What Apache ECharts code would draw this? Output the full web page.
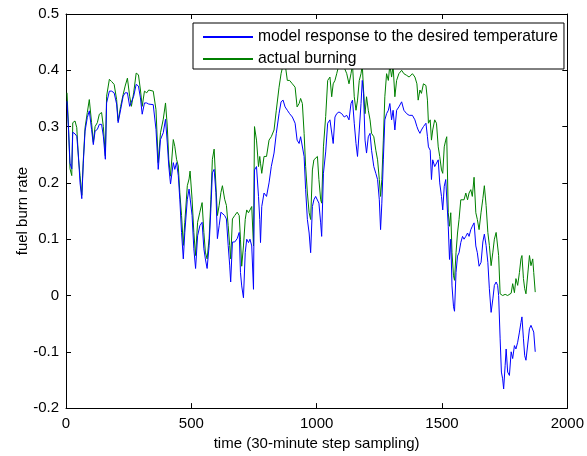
<!DOCTYPE html>
<html>
<head>
<meta charset="utf-8">
<script src="https://cdn.jsdelivr.net/npm/echarts@6/dist/echarts.min.js"></script>
<style>
  html, body { margin: 0; padding: 0; background: #fff; }
  #chart { width: 587px; height: 456px; }
</style>
</head>
<body>
<div id="chart"></div>
<script>
// sampling step (x) and the two curves
var steps = [
  4, 10, 16, 23, 27, 36, 43, 50, 56, 63, 69, 76, 85, 93, 102, 109, 116, 125, 133, 142,
  149, 157, 162, 173, 182, 192, 202, 208, 218, 228, 236, 245, 254, 261, 270, 280, 289, 297, 304, 313,
  322, 330, 348, 359, 368, 377, 388, 397, 404, 410, 417, 428, 434, 441, 448, 454, 461, 468, 474, 484,
  491, 495, 503, 510, 517, 525, 534, 543, 550, 556, 563, 571, 578, 584, 591, 598, 604, 611, 618, 624,
  633, 640, 647, 653, 657, 664, 673, 683, 691, 696, 701, 708, 715, 721, 728, 734, 741, 748, 752, 760,
  768, 773, 776, 781, 790, 800, 810, 819, 830, 839, 850, 858, 866, 874, 883, 892, 903, 914, 922, 930,
  936, 943, 950, 956, 963, 970, 976, 983, 989, 996, 1003, 1009, 1016, 1020, 1027, 1036, 1044, 1053, 1060, 1066,
  1073, 1080, 1089, 1100, 1110, 1120, 1129, 1137, 1143, 1150, 1157, 1163, 1170, 1177, 1182, 1187, 1193, 1199, 1206, 1213,
  1219, 1228, 1236, 1243, 1250, 1255, 1260, 1266, 1272, 1279, 1286, 1292, 1299, 1305, 1312, 1319, 1328, 1339, 1348, 1359,
  1369, 1382, 1392, 1400, 1405, 1412, 1418, 1426, 1436, 1442, 1446, 1453, 1458, 1463, 1471, 1478, 1485, 1491, 1498, 1503,
  1509, 1515, 1519, 1525, 1530, 1535, 1540, 1546, 1550, 1556, 1562, 1568, 1575, 1582, 1588, 1595, 1602, 1608, 1615, 1621,
  1628, 1635, 1641, 1648, 1656, 1663, 1669, 1676, 1683, 1689, 1696, 1703, 1709, 1716, 1722, 1726, 1732, 1737, 1742, 1746,
  1752, 1756, 1762, 1769, 1776, 1782, 1789, 1795, 1802, 1809, 1815, 1819, 1825, 1830, 1835, 1842, 1849, 1855, 1862, 1866,
  1872
]
var model = [
  .345, .295, .235, .225, .290, .287, .283, .245, .200, .172, .235, .292, .316, .328, .295, .268, .292, .295, .304, .304,
  .283, .242, .342, .363, .363, .360, .340, .307, .330, .354, .360, .360, .336, .333, .354, .375, .372, .351, .322, .342,
  .342, .340, .339, .295, .224, .277, .289, .313, .271, .230, .198, .236, .224, .236, .213, .171, .112, .065, .112, .171,
  .189, .192, .142, .083, .048, .106, .124, .130, .083, .065, .048, .089, .154, .218, .224, .183, .101, .124, .148, .148,
  .142, .136, .089, .054, .024, .095, .095, .101, .112, .041, .017, -.004, .076, .100, .094, .100, .088, .011, .223, .229,
  .176, .135, .094, .158, .182, .176, .200, .229, .253, .288, .323, .344, .347, .335, .329, .323, .317, .306, .276, .270,
  .282, .282, .247, .188, .135, .111, .076, .158, .170, .176, .179, .164, .129, .105, .217, .255, .306, .312, .312, .270,
  .317, .323, .326, .323, .317, .320, .312, .341, .347, .306, .270, .247, .294, .341, .382, .359, .276, .253, .282, .288,
  .258, .229, .217, .206, .170, .117, .164, .241, .312, .323, .329, .341, .312, .329, .294, .329, .335, .344, .329, .323,
  .320, .320, .312, .300, .294, .288, .294, .300, .306, .282, .264, .258, .206, .241, .229, .229, .241, .200, .176, .152,
  .194, .206, .206, .123, .064, .100, .017, -.020, -.028, .041, .070, .076, .094, .105, .100, .105, .111, .105, .117, .123,
  .129, .088, .076, .052, .059, .095, .109, .089, .059, .012, -.030, -.006, .018, .024, .018, .000, -.077, -.136, -.148, -.166,
  -.124, -.095, -.136, -.142, -.100, -.112, -.089, -.095, -.083, -.065, -.048, -.038, -.077, -.107, -.115, -.118, -.059, -.053, -.050, -.065,
  -.100
]
var actual = [
  .360, .300, .225, .213, .307, .310, .298, .242, .213, .178, .240, .298, .325, .348, .307, .272, .300, .307, .322, .325,
  .300, .248, .354, .384, .380, .375, .348, .310, .336, .357, .372, .386, .354, .336, .360, .395, .392, .365, .336, .363,
  .360, .365, .363, .330, .236, .289, .313, .342, .301, .242, .212, .277, .265, .242, .230, .183, .142, .089, .130, .195,
  .207, .221, .171, .112, .071, .130, .148, .165, .112, .077, .065, .101, .171, .242, .260, .260, .142, .160, .183, .195,
  .171, .160, .124, .089, .065, .136, .142, .148, .142, .100, .052, .088, .135, .152, .147, .152, .158, .088, .300, .276,
  .229, .247, .235, .217, .247, .247, .276, .282, .294, .329, .370, .394, .410, .412, .382, .382, .376, .370, .335, .341,
  .350, .341, .288, .229, .182, .147, .135, .223, .241, .241, .247, .206, .170, .164, .264, .318, .382, .388, .353, .376,
  .382, .394, .410, .412, .405, .394, .376, .394, .410, .353, .329, .347, .382, .394, .410, .365, .323, .353, .329, .312,
  .288, .282, .258, .241, .206, .176, .206, .276, .353, .394, .382, .410, .388, .408, .353, .382, .394, .400, .394, .391,
  .388, .394, .388, .376, .347, .365, .359, .376, .373, .347, .306, .312, .276, .294, .312, .306, .264, .247, .223, .217,
  .264, .276, .282, .147, .123, .147, .076, .035, .027, .076, .111, .135, .170, .170, .170, .182, .170, .182, .188, .176,
  .210, .147, .135, .117, .148, .172, .195, .160, .112, .089, .053, .077, .100, .112, .109, .071, .003, .000, .000, .000,
  .002, .003, .000, .000, .004, .021, .005, .030, .018, .041, .065, .071, .030, .012, .003, .000, .071, .053, .065, .041,
  .006
]
var xTicks = [0, 500, 1000, 1500, 2000]
var yTicks = [-0.2, -0.1, 0, 0.1, 0.2, 0.3, 0.4, 0.5]

var font = 'Liberation Sans, Arial, sans-serif'

function pairs(vals) {
  return steps.map(function (t, i) { return [t, vals[i]] })
}

// matlab style frame: ticks inside on all four sides
function frameAxis(extra) {
  var base = {
    type: 'value',
    axisLine: { show: true, onZero: false, lineStyle: { color: '#000', width: 1 } },
    axisTick: { show: true, inside: true, length: 5, lineStyle: { color: '#000' } },
    splitLine: { show: false },
    axisLabel: { show: false }
  }
  return Object.assign(base, extra)
}

var chart = echarts.init(document.getElementById('chart'), null, { renderer: 'canvas' })
chart.setOption({
  backgroundColor: '#fff',
  animation: false,
  grid: { left: 66, right: 19, top: 14, bottom: 46 },
  legend: {
    orient: 'vertical',
    left: 193,
    top: 23,
    padding: [6, 6, 2, 9],
    itemWidth: 50,
    itemHeight: 14,
    itemGap: 6,
    itemStyle: { opacity: 0 },
    backgroundColor: '#fff',
    borderColor: '#000',
    borderWidth: 1,
    borderRadius: 0,
    textStyle: { fontFamily: font, fontSize: 15.7, color: '#000' },
    data: ['model response to the desired temperature', 'actual burning'],
    z: 10
  },
  xAxis: [
    frameAxis({
      position: 'bottom',
      min: xTicks[0],
      max: xTicks[xTicks.length - 1],
      interval: 500,
      name: 'time (30-minute step sampling)',
      nameLocation: 'middle',
      nameGap: 22,
      nameTextStyle: { fontFamily: font, fontSize: 15, color: '#000' },
      axisLabel: {
        show: true, margin: 8, fontFamily: font, fontSize: 15, color: '#000',
        formatter: function (v) { return String(v) }
      }
    }),
    frameAxis({ position: 'top', min: 0, max: 2000, interval: 500 })
  ],
  yAxis: [
    frameAxis({
      position: 'left',
      min: yTicks[0],
      max: yTicks[yTicks.length - 1],
      interval: 0.1,
      name: 'fuel burn rate',
      nameLocation: 'middle',
      nameGap: 36,
      nameMoveOverlap: false,
      nameTextStyle: { fontFamily: font, fontSize: 15, color: '#000' },
      axisLabel: {
        show: true, margin: 7, fontFamily: font, fontSize: 15, color: '#000',
        formatter: function (v) { return String(Math.round(v * 10) / 10) }
      }
    }),
    frameAxis({ position: 'right', min: -0.2, max: 0.5, interval: 0.1 })
  ],
  series: [
    {
      name: 'model response to the desired temperature',
      type: 'line',
      symbol: 'none',
      showSymbol: false,
      color: '#0000ff',
      lineStyle: { width: 1, color: '#0000ff' },
      data: pairs(model),
      z: 3
    },
    {
      name: 'actual burning',
      type: 'line',
      symbol: 'none',
      showSymbol: false,
      color: '#008000',
      lineStyle: { width: 1, color: '#008000' },
      data: pairs(actual),
      z: 2
    }
  ]
})
</script>
</body>
</html>
